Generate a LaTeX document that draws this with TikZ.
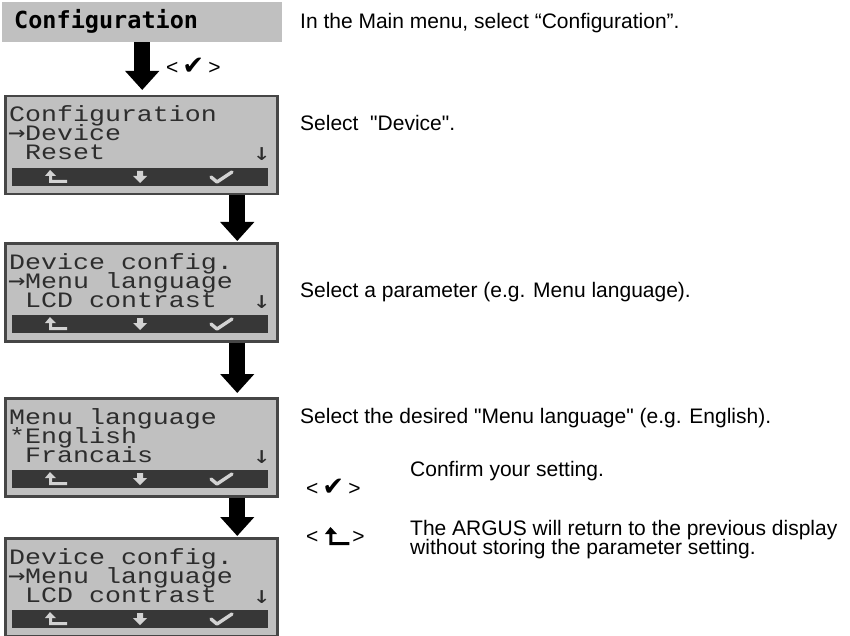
\documentclass[tikz,border=0pt]{standalone}
\usepackage{fontspec}
\setmainfont{Liberation Sans}
\newfontfamily\descfont{Liberation Sans}
\newfontfamily\lcdfont{Liberation Mono}[FakeStretch=1.21]
\newfontfamily\lcdsym{DejaVu Sans Mono}[FakeStretch=1.2]
\newfontfamily\titlefont{DejaVu Sans Mono}
\newfontfamily\symfont{DejaVu Sans}
\usetikzlibrary{arrows.meta,calc}
\definecolor{lcdbg}{RGB}{192,192,192}
\definecolor{lcdfg}{RGB}{45,45,45}
\definecolor{lcdborder}{RGB}{70,70,70}
\definecolor{barbg}{RGB}{55,55,55}
\definecolor{barfg}{RGB}{210,210,210}
\definecolor{titlebg}{RGB}{192,192,192}
\newcommand{\ckglyph}{{\symfont\fontsize{26}{26}\selectfont ✔}}
\begin{document}
\begin{tikzpicture}[x=1pt,y=-1pt,
  lcdbox/.style={draw=lcdborder, line width=2.5pt, fill=lcdbg, rectangle,
    minimum width=272pt, minimum height=98pt, anchor=north west, inner sep=0pt},
  lcdbar/.style={fill=barbg, draw=none, rectangle, minimum width=256pt,
    minimum height=18pt, inner sep=0pt},
  lcdtxt/.style={font=\lcdfont\fontsize{22}{22}\selectfont, text=lcdfg,
    anchor=base west, inner sep=0pt},
  lcdarr/.style={font=\lcdsym\fontsize{24}{24}\selectfont, text=lcdfg,
    anchor=base west, inner sep=0pt},
  desc/.style={font=\descfont\fontsize{21}{24}\selectfont, anchor=base west, inner sep=0pt},
  keysym/.style={font=\descfont\fontsize{21}{24}\selectfont, anchor=west, inner sep=0pt},
  bigarrow/.style={line width=16pt, -{Triangle[width=33pt,length=19pt]}},
  baricon/.style={fill=barfg, draw=none},
]
\useasboundingbox (0,0) rectangle (850,636);

% title bar
\node[fill=titlebg, rectangle, minimum width=280pt, minimum height=40pt,
  anchor=north west, inner sep=0pt] (title) at (2,2) {};
\node[font=\titlefont\bfseries\fontsize{23.5}{23.5}\selectfont, anchor=base west,
  inner sep=0pt] (titletxt) at (14,29) {Configuration};

% LCD screens
\foreach \n/\t in {1/95, 2/242, 3/397, 4/537}{
  \node[lcdbox] (lcd\n) at (4,\t) {};
  \node[lcdbar] (bar\n) at (140,\t+82) {};
  % return icon
  \fill[baricon] (bar\n.center) ++(-90,-7) -- ++(6,6) -- ++(-4,0) -- ++(0,4)
     -- ++(15,0) -- ++(0,3) -- ++(-18,0) -- ++(0,-7) -- ++(-4,0) -- cycle;
  % down icon
  \fill[baricon] (bar\n.center) ++(-3,-6) -- ++(6,0) -- ++(0,5) -- ++(4,0)
     -- ++(-7,7) -- ++(-7,-7) -- ++(4,0) -- cycle;
  % check icon
  \draw[barfg, line width=3.4pt, line cap=round, line join=round]
     (bar\n.center) ++(71,0) -- ++(6,5) -- ++(15,-10);
}

% LCD 1 text
\node[lcdtxt] (l1a) at (9,122) {Configuration};
\node[lcdarr] (l1b0) at (8,141) {→};
\node[lcdtxt] (l1b) at (25,141) {Device};
\node[lcdtxt] (l1c) at (25,160) {Reset};
\node[lcdarr] (l1d) at (253,161) {↓};

% LCD 2 text
\node[lcdtxt] (l2a) at (9,269) {Device config.};
\node[lcdarr] (l2b0) at (8,288) {→};
\node[lcdtxt] (l2b) at (25,288) {Menu language};
\node[lcdtxt] (l2c) at (25,307) {LCD contrast};
\node[lcdarr] (l2d) at (253,308) {↓};

% LCD 3 text
\node[lcdtxt] (l3a) at (9,424) {Menu language};
\node[lcdtxt] (l3b) at (9,443) {*English};
\node[lcdtxt] (l3c) at (25,462) {Francais};
\node[lcdarr] (l3d) at (253,463) {↓};

% LCD 4 text
\node[lcdtxt] (l4a) at (9,564) {Device config.};
\node[lcdarr] (l4b0) at (8,583) {→};
\node[lcdtxt] (l4b) at (25,583) {Menu language};
\node[lcdtxt] (l4c) at (25,602) {LCD contrast};
\node[lcdarr] (l4d) at (253,603) {↓};

% big arrows
\draw[bigarrow, shorten >=5pt] (title.south) -- (title.south |- lcd1.north);
\draw[bigarrow, shorten >=1pt] ([xshift=96pt]lcd1.south) -- ([xshift=96pt]lcd2.north);
\draw[bigarrow, shorten >=4pt] ([xshift=96pt]lcd2.south) -- ([xshift=96pt]lcd3.north);
\draw[bigarrow, shorten >=1pt] ([xshift=96pt]lcd3.south) -- ([xshift=96pt]lcd4.north);

% key hint beside first arrow
\node[keysym] (k1) at (166,66) {<\hspace{4pt}\ckglyph\hspace{4pt}>};

% descriptions
\node[desc] (d1) at (300,29) {In the Main menu, select “Configuration”.};
\node[desc] (d2) at (300,131) {Select\ \ "Device".};
\node[desc] (d3) at (300,297) {Select a parameter (e.g. Menu language).};
\node[desc] (d4) at (300,423) {Select the desired "Menu language" (e.g. English).};
\node[keysym] (k2) at (306,487) {<\hspace{4pt}\ckglyph\hspace{4pt}>};
\node[desc] (d5) at (410,476) {Confirm your setting.};
\node[keysym] (k3) at (306,537) {<\hspace{34pt}>};
\fill ($(k3.center)+(-5,-10)$) -- ++(6.5,7) -- ++(-4.5,0) -- ++(0,8) -- ++(17,0)
   -- ++(0,3) -- ++(-20,0) -- ++(0,-11) -- ++(-4.5,0) -- cycle;
\node[desc] (d6) at (410,535) {The ARGUS will return to the previous display};
\node[desc] (d7) at (410,554) {without storing the parameter setting.};
\end{tikzpicture}
\end{document}
